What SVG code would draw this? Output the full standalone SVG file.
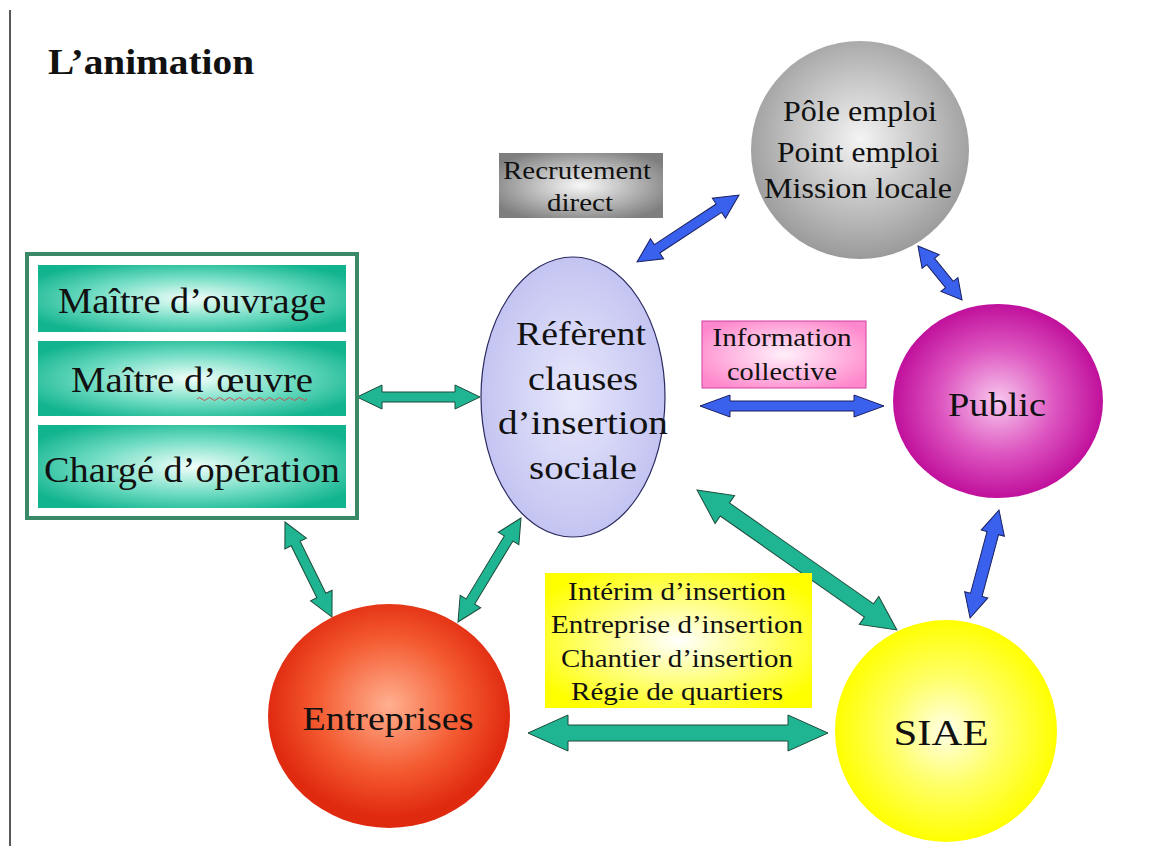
<svg xmlns="http://www.w3.org/2000/svg" width="1152" height="846" viewBox="0 0 1152 846" font-family="'Liberation Serif', 'DejaVu Serif', serif">
<style>
text{font-family:'Liberation Serif','DejaVu Serif',serif;fill:#111;text-anchor:middle}
.g{fill:#1fb592;stroke:#1d4a3a;stroke-width:1}
.b{fill:#3a60ee;stroke:#1a2060;stroke-width:1}
</style>
<defs>
<radialGradient id="teal" cx="0.5" cy="0.5" r="0.6"><stop offset="0" stop-color="#f2fffb"/><stop offset="0.55" stop-color="#6fdcc2"/><stop offset="1" stop-color="#12b48f"/></radialGradient>
<radialGradient id="gray" cx="0.5" cy="0.45" r="0.55"><stop offset="0" stop-color="#f4f4f4"/><stop offset="1" stop-color="#9a9a9a"/></radialGradient>
<radialGradient id="grayBox" cx="0.5" cy="0.5" r="0.6"><stop offset="0" stop-color="#f8f8f8"/><stop offset="1" stop-color="#7e7e7e"/></radialGradient>
<radialGradient id="pink" cx="0.5" cy="0.5" r="0.6"><stop offset="0" stop-color="#fff0fa"/><stop offset="1" stop-color="#ff88cc"/></radialGradient>
<radialGradient id="yel" cx="0.5" cy="0.5" r="0.6"><stop offset="0" stop-color="#ffffff"/><stop offset="0.5" stop-color="#ffff80"/><stop offset="1" stop-color="#ffff00"/></radialGradient>
<radialGradient id="lav" cx="0.5" cy="0.5" r="0.5"><stop offset="0" stop-color="#e8e8fc"/><stop offset="1" stop-color="#c4c4f2"/></radialGradient>
<radialGradient id="mag" cx="0.5" cy="0.5" r="0.5"><stop offset="0" stop-color="#f8c8ee"/><stop offset="0.55" stop-color="#dd55c0"/><stop offset="1" stop-color="#c0109c"/></radialGradient>
<radialGradient id="sun" cx="0.5" cy="0.5" r="0.5"><stop offset="0" stop-color="#ffffe8"/><stop offset="0.5" stop-color="#ffff66"/><stop offset="1" stop-color="#ffff00"/></radialGradient>
<radialGradient id="red" cx="0.5" cy="0.45" r="0.5"><stop offset="0" stop-color="#ffb090"/><stop offset="0.6" stop-color="#f45a30"/><stop offset="1" stop-color="#e02a10"/></radialGradient>
</defs>
<rect width="1152" height="846" fill="#fff"/>
<line x1="10" y1="10" x2="10" y2="846" stroke="#222" stroke-width="1.5"/>
<text x="48" y="74" font-size="35" font-weight="bold" style="text-anchor:start" textLength="206" lengthAdjust="spacingAndGlyphs">L’animation</text>

<g id="connectors">
<g transform="translate(357,397)"><polygon class="g" points="0,0 25,-12 25,-5 98,-5 98,-12 123,0 98,12 98,5 25,5 25,12"/></g>
<g transform="translate(285,522) rotate(63.7)"><polygon class="g" points="0,0 24,-12 24,-5 82,-5 82,-12 106,0 82,12 82,5 24,5 24,12"/></g>
<g transform="translate(521,518) rotate(121.2)"><polygon class="g" points="0,0 24,-12 24,-5 97.6,-5 97.6,-12 121.6,0 97.6,12 97.6,5 24,5 24,12"/></g>
<g transform="translate(697,490) rotate(35)"><polygon class="g" points="0,0 34,-17 34,-8 210,-8 210,-17 244,0 210,17 210,8 34,8 34,17"/></g>
<g transform="translate(528,733)"><polygon class="g" points="0,0 40,-18 40,-8 260,-8 260,-18 300,0 260,18 260,8 40,8 40,18"/></g>
<g transform="translate(637,262) rotate(-33.3)"><polygon class="b" points="0,0 24,-12 24,-5 98,-5 98,-12 122,0 98,12 98,5 24,5 24,12"/></g>
<g transform="translate(918,246) rotate(50.8)"><polygon class="b" points="0,0 20,-11 20,-5 49.7,-5 49.7,-11 69.7,0 49.7,11 49.7,5 20,5 20,11"/></g>
<g transform="translate(700,406)"><polygon class="b" points="0,0 30,-11 30,-5 154,-5 154,-11 184,0 154,11 154,5 30,5 30,11"/></g>
<g transform="translate(999,510) rotate(105)"><polygon class="b" points="0,0 24,-12 24,-6 87.8,-6 87.8,-12 111.8,0 87.8,12 87.8,6 24,6 24,12"/></g>
</g>

<g id="maitrise">
<rect x="27" y="254" width="330" height="264" fill="#fff" stroke="#3a8a68" stroke-width="4"/>
<rect x="38" y="265" width="308" height="67" fill="url(#teal)"/>
<rect x="38" y="341" width="308" height="75" fill="url(#teal)"/>
<rect x="38" y="425" width="308" height="83" fill="url(#teal)"/>
<text x="192" y="313" font-size="35" textLength="268" lengthAdjust="spacingAndGlyphs">Maître d’ouvrage</text>
<text x="192" y="392" font-size="35" textLength="242" lengthAdjust="spacingAndGlyphs">Maître d’œuvre</text>
<path d="M197,399 q2.5,-3 5,0 t5,0 t5,0 t5,0 t5,0 t5,0 t5,0 t5,0 t5,0 t5,0 t5,0 t5,0 t5,0 t5,0 t5,0 t5,0 t5,0 t5,0 t5,0 t5,0 t5,0 t5,0" fill="none" stroke="#c85050" stroke-width="1"/>
<text x="192" y="482" font-size="35" textLength="296" lengthAdjust="spacingAndGlyphs">Chargé d’opération</text>
</g>

<g id="referent">
<ellipse cx="573" cy="397" rx="92" ry="140" fill="url(#lav)" stroke="#2a2a60" stroke-width="1.2"/>
<text x="581" y="345" font-size="34" textLength="130" lengthAdjust="spacingAndGlyphs">Réfèrent</text>
<text x="583" y="390" font-size="34" textLength="110" lengthAdjust="spacingAndGlyphs">clauses</text>
<text x="583" y="434" font-size="34" textLength="170" lengthAdjust="spacingAndGlyphs">d’insertion</text>
<text x="583" y="479" font-size="34" textLength="108" lengthAdjust="spacingAndGlyphs">sociale</text>
</g>

<g id="recrutement">
<rect x="499" y="153" width="164" height="65" fill="url(#grayBox)"/>
<text x="577" y="179" font-size="25" textLength="148" lengthAdjust="spacingAndGlyphs">Recrutement</text>
<text x="580" y="211" font-size="25" textLength="66" lengthAdjust="spacingAndGlyphs">direct</text>
</g>

<g id="pole">
<circle cx="860" cy="150" r="109" fill="url(#gray)"/>
<text x="860" y="121" font-size="30" textLength="154" lengthAdjust="spacingAndGlyphs">Pôle emploi</text>
<text x="858" y="162" font-size="30" textLength="162" lengthAdjust="spacingAndGlyphs">Point emploi</text>
<text x="858" y="198" font-size="30" textLength="188" lengthAdjust="spacingAndGlyphs">Mission locale</text>
</g>

<g id="information">
<rect x="702" y="321" width="164" height="67" fill="url(#pink)" stroke="#d040a0" stroke-width="1"/>
<text x="782" y="346" font-size="25" textLength="139" lengthAdjust="spacingAndGlyphs">Information</text>
<text x="782" y="380" font-size="25" textLength="110" lengthAdjust="spacingAndGlyphs">collective</text>
</g>

<g id="public">
<ellipse cx="998" cy="401" rx="105" ry="97" fill="url(#mag)"/>
<text x="997" y="416" font-size="34" textLength="98" lengthAdjust="spacingAndGlyphs">Public</text>
</g>

<g id="siae-types">
<rect x="545" y="573" width="267" height="135" fill="url(#yel)"/>
<text x="677" y="600" font-size="25" textLength="218" lengthAdjust="spacingAndGlyphs">Intérim d’insertion</text>
<text x="677" y="633" font-size="25" textLength="252" lengthAdjust="spacingAndGlyphs">Entreprise d’insertion</text>
<text x="677" y="667" font-size="25" textLength="232" lengthAdjust="spacingAndGlyphs">Chantier d’insertion</text>
<text x="677" y="700" font-size="25" textLength="212" lengthAdjust="spacingAndGlyphs">Régie de quartiers</text>
</g>

<g id="siae">
<circle cx="946" cy="731" r="111" fill="url(#sun)"/>
<text x="941" y="745" font-size="35" textLength="95" lengthAdjust="spacingAndGlyphs">SIAE</text>
</g>

<g id="entreprises">
<ellipse cx="389" cy="716" rx="121" ry="112" fill="url(#red)"/>
<text x="388" y="730" font-size="34" textLength="171" lengthAdjust="spacingAndGlyphs">Entreprises</text>
</g>
</svg>
